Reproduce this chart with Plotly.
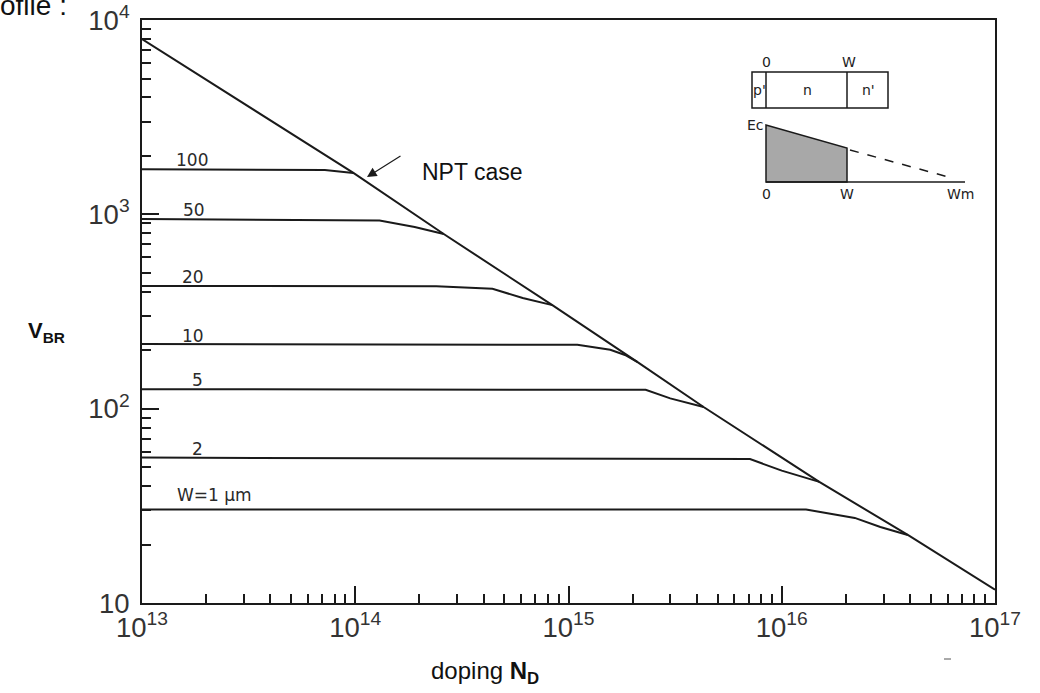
import plotly.graph_objects as go

# ---------------- data ----------------
npt_x = [1e13, 9.8e13, 2.6e14, 8.4e14, 2.1e15, 4.3e15, 1.5e16, 3.9e16, 1e17]
npt_y = [7980, 1633, 792, 341, 174, 102, 42, 22.4, 11.7]

w100_x = [1e13, 7.2e13, 9.8e13]
w100_y = [1706, 1690, 1633]
w50_x = [1e13, 1.3e14, 1.9e14, 2.6e14]
w50_y = [946, 930, 861, 792]
w20_x = [1e13, 2.4e14, 4.4e14, 6.1e14, 8.4e14]
w20_y = [428, 426, 414, 371, 341]
w10_x = [1e13, 1.1e15, 1.57e15, 1.84e15, 2.1e15]
w10_y = [215, 213, 201, 189, 174]
w5_x = [1e13, 2.3e15, 3.0e15, 4.3e15]
w5_y = [126, 125, 113, 102]
w2_x = [1e13, 7.1e15, 1.0e16, 1.5e16]
w2_y = [56, 55, 48, 42]
w1_x = [1e13, 1.3e16, 2.2e16, 2.9e16, 3.9e16]
w1_y = [30.3, 30.3, 27.4, 24.6, 22.4]

curve_labels = ["100", "50", "20", "10", "5", "2", "W=1 \u00b5m"]

# ---------------- figure ----------------
W, H = 1040, 693
# plot area in page pixels
L, R, T, B = 142, 995, 20, 603


def px(x):
    return (x - L) / (R - L)


def py(y):
    return (B - y) / (B - T)


INK = "#1a1a1a"
fig = go.Figure()

for xs, ys in [(npt_x, npt_y), (w100_x, w100_y), (w50_x, w50_y), (w20_x, w20_y),
               (w10_x, w10_y), (w5_x, w5_y), (w2_x, w2_y), (w1_x, w1_y)]:
    fig.add_trace(go.Scatter(x=xs, y=ys, mode="lines",
                             line=dict(color=INK, width=2),
                             showlegend=False, hoverinfo="skip"))

tickfont = dict(family="Liberation Sans, Arial, sans-serif", size=22, color="#333")
axis_common = dict(
    type="log", dtick=1, exponentformat="power", automargin=False,
    ticklabeloverflow="allow",
    ticks="inside", ticklen=17, tickwidth=1.5, tickcolor=INK,
    showline=True, linecolor=INK, linewidth=2, mirror=True,
    showgrid=False, zeroline=False, tickfont=tickfont,
    minor=dict(ticks="inside", ticklen=9, tickwidth=1.5, tickcolor=INK,
               dtick="D1", showgrid=False),
)
fig.update_xaxes(range=[13, 17], **axis_common)
fig.update_yaxes(range=[1, 4], ticklabelstandoff=6, **axis_common)

fig.update_layout(
    width=W, height=H,
    margin=dict(l=L, r=W - R, t=T, b=H - B, pad=0, autoexpand=False),
    paper_bgcolor="white", plot_bgcolor="white",
    showlegend=False,
)

ann = []
# curve labels
lab_pos = [(192, 160), (194, 210), (193, 277), (193, 336), (197, 380), (197, 449), (214, 495)]
lab_font = dict(family="DejaVu Sans, sans-serif", size=17, color="#2a2a2a")
for t, (x, y) in zip(curve_labels, lab_pos):
    ann.append(dict(text=t, x=px(x), y=py(y), xref="paper", yref="paper",
                    showarrow=False, xanchor="center", yanchor="middle", font=lab_font))

# NPT case text + arrow
ann.append(dict(text="NPT case", x=px(420), y=py(172), xref="paper", yref="paper",
                showarrow=False, xanchor="left", yanchor="middle",
                font=dict(family="Liberation Sans, Arial, sans-serif", size=23, color="#111")))
ann.append(dict(text="", x=14.055, y=3.192, xref="x", yref="y",
                showarrow=True, ax=35, ay=-22, arrowhead=2, arrowsize=1.6,
                arrowwidth=1.2, arrowcolor=INK))

# axis titles
ann.append(dict(text="<b>V<sub>BR</sub></b>", x=px(46), y=py(332), xref="paper", yref="paper",
                showarrow=False, xanchor="center", yanchor="middle",
                font=dict(family="Liberation Sans, Arial, sans-serif", size=22, color="#111")))
ann.append(dict(text="doping <b>N<sub>D</sub></b>", x=px(485), y=py(672), xref="paper", yref="paper",
                showarrow=False, xanchor="center", yanchor="middle",
                font=dict(family="Liberation Sans, Arial, sans-serif", size=24, color="#111")))
# clipped heading text at top-left
ann.append(dict(text="ofile :", x=px(-2), y=py(5), xref="paper", yref="paper",
                showarrow=False, xanchor="left", yanchor="middle",
                font=dict(family="Liberation Sans, Arial, sans-serif", size=28, color="#111")))

# inset diagram texts
ins_font = dict(family="DejaVu Sans, sans-serif", size=14, color="#222")
for t, x, y in [("0", 766, 62), ("W", 849, 62), ("p'", 759, 90), ("n", 807, 90), ("n'", 868, 90),
                ("Ec", 755, 125), ("0", 766, 194), ("W", 847, 194), ("Wm", 960, 194)]:
    ann.append(dict(text=t, x=px(x), y=py(y), xref="paper", yref="paper",
                    showarrow=False, xanchor="center", yanchor="middle", font=ins_font))
fig.update_layout(annotations=ann)

shapes = []
ln = dict(color=INK, width=1.5)
# layer box
shapes.append(dict(type="rect", xref="paper", yref="paper",
                   x0=px(752), x1=px(888), y0=py(108), y1=py(72), line=ln))
for xx in (766, 847):
    shapes.append(dict(type="line", xref="paper", yref="paper",
                       x0=px(xx), x1=px(xx), y0=py(108), y1=py(72), line=ln))
# shaded field profile
shapes.append(dict(type="path", xref="paper", yref="paper",
                   path=f"M {px(766)},{py(182)} L {px(766)},{py(125)} L {px(847)},{py(148)} L {px(847)},{py(182)} Z",
                   fillcolor="#a8a8a8", line=ln))
# baseline
shapes.append(dict(type="line", xref="paper", yref="paper",
                   x0=px(766), x1=px(965), y0=py(182), y1=py(182), line=ln))
# dashed extension
shapes.append(dict(type="line", xref="paper", yref="paper",
                   x0=px(850), x1=px(952), y0=py(150), y1=py(178),
                   line=dict(color=INK, width=1.5, dash="dash")))
# small stray dash below the axis
shapes.append(dict(type="line", xref="paper", yref="paper",
                   x0=px(944), x1=px(951), y0=py(659), y1=py(659),
                   line=dict(color="#555", width=1)))
fig.update_layout(shapes=shapes)

# remove the browser's default page margin so the figure fills the window
fig.write_html("out.html", config={"displayModeBar": False},
               post_script="document.body.style.margin='0';document.body.style.overflow='hidden';")
